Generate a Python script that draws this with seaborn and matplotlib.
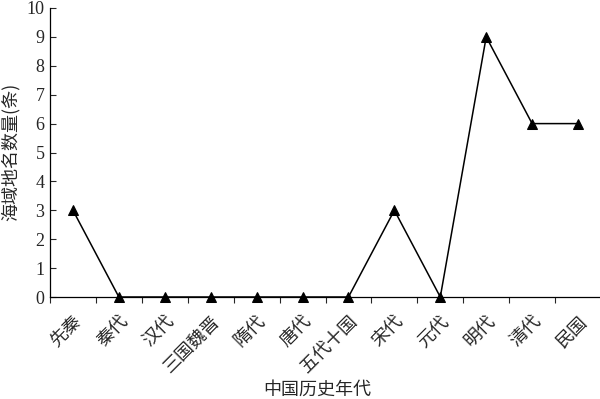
import numpy as np
import pandas as pd
import matplotlib
matplotlib.use("Agg")
import matplotlib.pyplot as plt
import seaborn as sns

# Chart values
periods = ['先秦', '秦代', '汉代', '三国魏晋', '隋代', '唐代', '五代十国',
           '宋代', '元代', '明代', '清代', '民国']
counts = [3, 0, 0, 0, 0, 0, 0, 3, 0, 9, 6, 6]
yticks = list(range(0, 11))

df = pd.DataFrame({'period': periods, 'count': counts})

sns.set_style('ticks')
plt.rcParams['font.family'] = ['Liberation Serif', 'Noto Sans CJK SC']

fig = plt.figure(figsize=(6, 3.99), dpi=100)
ax = fig.add_axes([50 / 600, 1 - 297 / 399, 551 / 600, 289 / 399])

pos = np.arange(len(periods))
sns.lineplot(x=pos, y=df['count'], ax=ax, color='black', linewidth=1.1,
             marker='^', markersize=7, markeredgecolor='black', clip_on=False)

ax.set_xlim(-0.5, len(periods) - 0.5)
ax.set_ylim(0, 10)
ax.set_yticks(yticks)
ax.set_yticklabels([str(v) for v in yticks], fontsize=13)
ax.tick_params(axis='y', direction='in', length=4, width=0.8, pad=4)

# category labels at centres, tick marks at category boundaries
ax.set_xticks(pos)
ax.set_xticklabels(periods, fontsize=13, rotation=45, ha='right', va='top',
                   rotation_mode='anchor', family=['Noto Sans CJK SC'])
ax.tick_params(axis='x', which='major', length=0, pad=11)
ax.set_xticks(np.arange(-0.5, len(periods)), minor=True)
ax.tick_params(axis='x', which='minor', direction='out', length=4, width=0.8)

for s in ['top', 'right']:
    ax.spines[s].set_visible(False)
for s in ['left', 'bottom']:
    ax.spines[s].set_linewidth(0.9)
    ax.spines[s].set_color('black')

ax.set_xlabel('中国历史年代', fontsize=13, family=['Noto Sans CJK SC'])
ax.set_ylabel('海域地名数量(条)', fontsize=13, family=['Noto Sans CJK SC'])
ax.xaxis.set_label_coords((317 - 50) / 551, -(381 - 297) / 289)
ax.yaxis.set_label_coords(-30 / 551, (297 - 152) / 289)

fig.savefig('out.png', dpi=100)
